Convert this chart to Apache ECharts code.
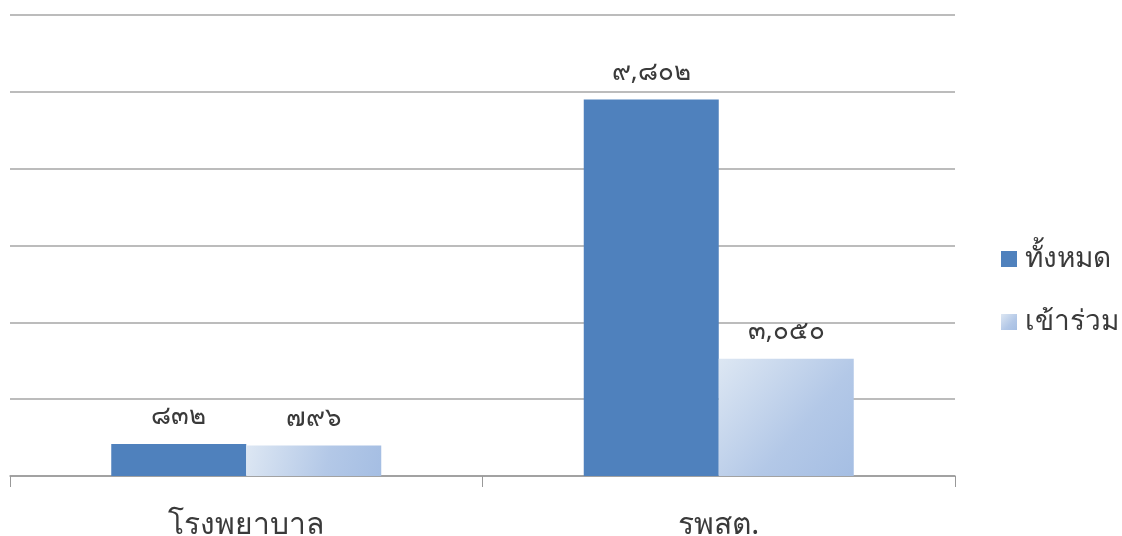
<!DOCTYPE html>
<html>
<head>
<meta charset="utf-8">
<script src="https://cdn.jsdelivr.net/npm/echarts@6/dist/echarts.min.js"></script>
<style>
html,body{margin:0;padding:0;background:#fff;}
#chart{width:1122px;height:536px;}
</style>
</head>
<body>
<div id="chart"></div>
<script>
const categories = ['โรงพยาบาล', 'รพสต.'];
const seriesNames = ['ทั้งหมด', 'เข้าร่วม'];
const totalValues = [832, 9802];
const joinedValues = [796, 3050];

const thaiDigits = ['๐','๑','๒','๓','๔','๕','๖','๗','๘','๙'];
function toThai(n) {
  const s = n.toLocaleString('en-US');
  return s.replace(/[0-9]/g, d => thaiDigits[+d]);
}

const FONT = '"Noto Sans", "DejaVu Sans", sans-serif';
const TXT = '#3a3a3a';
const chart = echarts.init(document.getElementById('chart'), null, {renderer: 'canvas'});
const gradient = new echarts.graphic.LinearGradient(0, 0, 1, 1, [
  {offset: 0, color: '#dde7f3'},
  {offset: 0.6, color: '#b3c8e7'},
  {offset: 1, color: '#a5bee3'}
]);
chart.setOption({
  animation: false,
  backgroundColor: '#ffffff',
  textStyle: {fontFamily: FONT},
  grid: {left: 10, right: 167, top: 15, bottom: 60, containLabel: false, outerBoundsMode: 'none'},
  legend: {
    orient: 'vertical',
    left: 996,
    top: 240,
    itemWidth: 16,
    itemHeight: 16,
    itemGap: 35,
    icon: 'rect',
    textStyle: {fontSize: 28, lineHeight: 24, color: TXT, fontFamily: FONT, padding: [0, 0, 0, 3]},
    data: seriesNames
  },
  xAxis: {
    type: 'category',
    data: categories,
    axisLine: {lineStyle: {color: '#999', width: 1.5}},
    axisTick: {show: true, length: 11, lineStyle: {color: '#999'}},
    axisLabel: {fontSize: 30, color: TXT, margin: 34, fontFamily: FONT}
  },
  yAxis: {
    type: 'value',
    min: 0,
    max: 12000,
    interval: 2000,
    axisLabel: {show: false},
    axisLine: {show: false},
    axisTick: {show: false},
    splitLine: {lineStyle: {color: '#a6a6a6', width: 1.5}}
  },
  series: [
    {
      name: seriesNames[0],
      type: 'bar',
      data: totalValues,
      barWidth: 135,
      barGap: '0%',
      itemStyle: {color: '#4f81bd'},
      label: {show: true, position: 'top', distance: 14, fontSize: 26, color: TXT,
        formatter: p => toThai(p.value)}
    },
    {
      name: seriesNames[1],
      type: 'bar',
      data: joinedValues,
      barWidth: 135,
      barGap: '0%',
      itemStyle: {color: gradient},
      label: {show: true, position: 'top', distance: 14, fontSize: 26, color: TXT,
        formatter: p => toThai(p.value)}
    }
  ]
});
</script>
</body>
</html>
